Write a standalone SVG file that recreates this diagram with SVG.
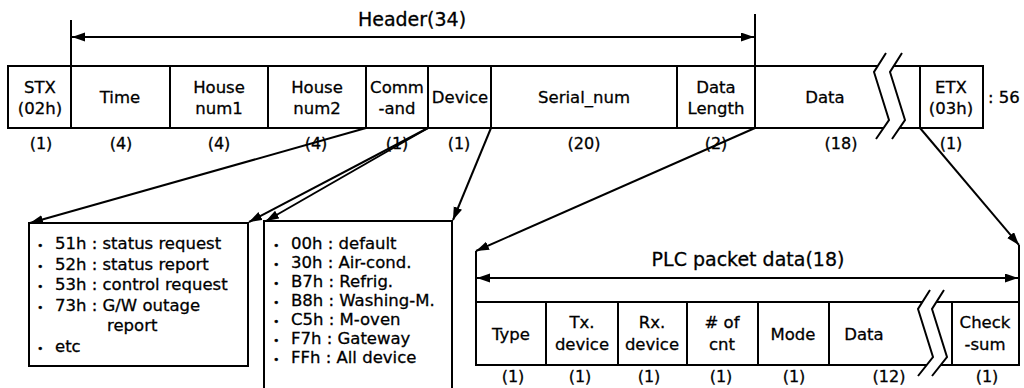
<svg xmlns="http://www.w3.org/2000/svg" width="1024" height="388" viewBox="0 0 1024 388">
<defs>
<marker id="ah" markerUnits="userSpaceOnUse" markerWidth="14" markerHeight="10" refX="13" refY="4.5" orient="auto-start-reverse">
<path d="M0,0 L13,4.5 L0,9 Z" fill="#000"/>
</marker>
<style>
.b{fill:none;stroke:#000;stroke-width:2}
.c{fill:none;stroke:#000;stroke-width:2;marker-end:url(#ah)}
text{stroke:#000;stroke-width:0.3px}
.t{font-family:"DejaVu Sans",sans-serif;font-size:16.5px;fill:#000;text-anchor:middle}
.s{font-family:"DejaVu Sans",sans-serif;font-size:16px;fill:#000;text-anchor:middle}
.h{font-family:"DejaVu Sans",sans-serif;font-size:19px;fill:#000;text-anchor:middle}
.l{font-family:"DejaVu Sans",sans-serif;font-size:16.5px;fill:#000}
.d{font-size:11px}
</style>
</defs>
<rect width="1024" height="388" fill="#fff"/>

<g id="header-span">
<line class="b" x1="71" y1="20" x2="71" y2="66"/>
<line class="b" x1="755" y1="14" x2="755" y2="66"/>
<line class="b" x1="72" y1="37" x2="754" y2="37" style="marker-start:url(#ah);marker-end:url(#ah)"/>
<text class="h" x="412" y="26">Header(34)</text>
</g>

<g id="frame">
<path class="b" d="M878,66 H8 V128 H883"/>
<path class="b" d="M894,66 H983 V128 H900"/>
<polyline class="b" points="886,53 874,72 889,120 876,139"/>
<polyline class="b" points="902,53 890,72 905,120 892,139"/>
<text class="t" x="988" y="103" style="text-anchor:start">: 56</text>
</g>
<g id="stx"><text class="t" x="40" y="93">STX</text><text class="t" x="40" y="114">(02h)</text><text class="s" x="41" y="149">(1)</text></g>
<g id="time"><line class="b" x1="71" y1="66" x2="71" y2="128"/><text class="t" x="120" y="103">Time</text><text class="s" x="121" y="149">(4)</text></g>
<g id="house1"><line class="b" x1="170" y1="66" x2="170" y2="128"/><text class="t" x="219" y="93">House</text><text class="t" x="219" y="114">num1</text><text class="s" x="219" y="149">(4)</text></g>
<g id="house2"><line class="b" x1="268" y1="66" x2="268" y2="128"/><text class="t" x="317" y="93">House</text><text class="t" x="317" y="114">num2</text><text class="s" x="316" y="149">(4)</text></g>
<g id="command"><line class="b" x1="366" y1="66" x2="366" y2="128"/><text class="t" x="397" y="93">Comm</text><text class="t" x="397" y="114">-and</text><text class="s" x="397" y="149">(1)</text></g>
<g id="device"><line class="b" x1="428" y1="66" x2="428" y2="128"/><text class="t" x="460" y="103">Device</text><text class="s" x="459" y="149">(1)</text></g>
<g id="serial"><line class="b" x1="491" y1="66" x2="491" y2="128"/><text class="t" x="584" y="103">Serial_num</text><text class="s" x="584" y="149">(20)</text></g>
<g id="datalength"><line class="b" x1="677" y1="66" x2="677" y2="128"/><text class="t" x="716" y="93">Data</text><text class="t" x="716" y="114">Length</text><text class="s" x="716" y="149">(2)</text></g>
<g id="data"><line class="b" x1="755" y1="66" x2="755" y2="128"/><text class="t" x="825" y="103">Data</text><text class="s" x="841" y="149">(18)</text></g>
<g id="etx"><line class="b" x1="920" y1="66" x2="920" y2="128"/><text class="t" x="951" y="93">ETX</text><text class="t" x="951" y="114">(03h)</text><text class="s" x="951" y="149">(1)</text></g>

<g id="connectors">
<line class="c" x1="366" y1="128" x2="30" y2="223"/>
<line class="c" x1="428" y1="128" x2="249" y2="222"/>
<line class="c" x1="428" y1="128" x2="266" y2="221"/>
<line class="c" x1="491" y1="128" x2="453" y2="220"/>
<line class="c" x1="755" y1="128" x2="476" y2="251"/>
<line class="c" x1="920" y1="128" x2="1019" y2="245"/>
</g>

<g id="command-list">
<rect class="b" x="29" y="223" width="219" height="143"/>
<text class="l"><tspan class="d" x="37" y="249">•</tspan><tspan x="55">51h : status request</tspan></text>
<text class="l"><tspan class="d" x="37" y="270">•</tspan><tspan x="55">52h : status report</tspan></text>
<text class="l"><tspan class="d" x="37" y="290">•</tspan><tspan x="55">53h : control request</tspan></text>
<text class="l"><tspan class="d" x="37" y="311">•</tspan><tspan x="55">73h : G/W outage</tspan></text>
<text class="l" x="107" y="331">report</text>
<text class="l"><tspan class="d" x="37" y="352">•</tspan><tspan x="55">etc</tspan></text>
</g>

<g id="device-list">
<path class="b" d="M264,390 V221 H452 V390"/>
<text class="l"><tspan class="d" x="273" y="249">•</tspan><tspan x="291">00h : default</tspan></text>
<text class="l"><tspan class="d" x="273" y="268">•</tspan><tspan x="291">30h : Air-cond.</tspan></text>
<text class="l"><tspan class="d" x="273" y="287">•</tspan><tspan x="291">B7h : Refrig.</tspan></text>
<text class="l"><tspan class="d" x="273" y="306">•</tspan><tspan x="291">B8h : Washing-M.</tspan></text>
<text class="l"><tspan class="d" x="273" y="325">•</tspan><tspan x="291">C5h : M-oven</tspan></text>
<text class="l"><tspan class="d" x="273" y="344">•</tspan><tspan x="291">F7h : Gateway</tspan></text>
<text class="l"><tspan class="d" x="273" y="363">•</tspan><tspan x="291">FFh : All device</tspan></text>
</g>

<g id="plc-span">
<line class="b" x1="476" y1="251" x2="476" y2="302"/>
<line class="b" x1="1019" y1="245" x2="1019" y2="302"/>
<line class="b" x1="477" y1="278" x2="1018" y2="278" style="marker-start:url(#ah);marker-end:url(#ah)"/>
<text class="h" x="748" y="266">PLC packet data(18)</text>
</g>

<g id="plc-frame">
<path class="b" d="M922,302 H476 V365 H927"/>
<path class="b" d="M936,302 H1019 V365 H941"/>
<polyline class="b" points="930,290 918,309 933,357 918,376"/>
<polyline class="b" points="944,290 932,309 947,357 932,376"/>
</g>
<g id="type"><text class="t" x="511" y="340">Type</text><text class="s" x="513" y="382">(1)</text></g>
<g id="txdevice"><line class="b" x1="546" y1="302" x2="546" y2="365"/><text class="t" x="582" y="328">Tx.</text><text class="t" x="582" y="350">device</text><text class="s" x="580" y="382">(1)</text></g>
<g id="rxdevice"><line class="b" x1="618" y1="302" x2="618" y2="365"/><text class="t" x="652" y="328">Rx.</text><text class="t" x="652" y="350">device</text><text class="s" x="649" y="382">(1)</text></g>
<g id="cnt"><line class="b" x1="687" y1="302" x2="687" y2="365"/><text class="t" x="722" y="328"># of</text><text class="t" x="722" y="350">cnt</text><text class="s" x="721" y="382">(1)</text></g>
<g id="mode"><line class="b" x1="758" y1="302" x2="758" y2="365"/><text class="t" x="793" y="340">Mode</text><text class="s" x="794" y="382">(1)</text></g>
<g id="plcdata"><line class="b" x1="829" y1="302" x2="829" y2="365"/><text class="t" x="864" y="340">Data</text><text class="s" x="889" y="382">(12)</text></g>
<g id="checksum"><line class="b" x1="952" y1="302" x2="952" y2="365"/><text class="t" x="985" y="328">Check</text><text class="t" x="985" y="350">-sum</text><text class="s" x="987" y="382">(1)</text></g>
</svg>
